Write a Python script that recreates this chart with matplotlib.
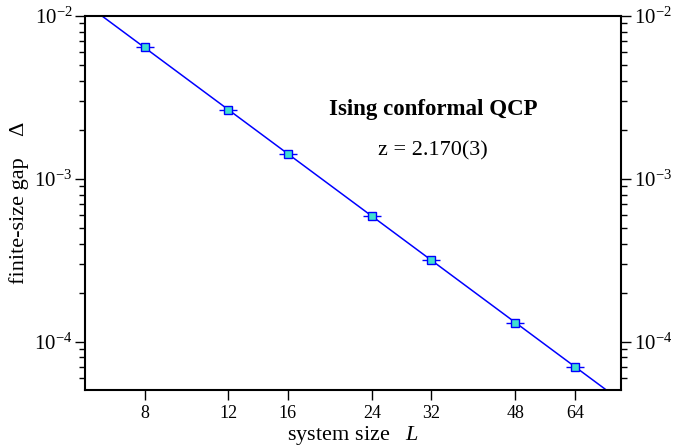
import numpy as np
import matplotlib
matplotlib.use("Agg")
import matplotlib.pyplot as plt
from matplotlib.ticker import LogLocator, NullFormatter, FixedLocator, FixedFormatter

plt.rcParams['font.family'] = ['Liberation Serif', 'DejaVu Serif']
plt.rcParams['mathtext.fontset'] = 'custom'
plt.rcParams['mathtext.rm'] = 'Liberation Serif'
plt.rcParams['mathtext.it'] = 'Liberation Serif:italic'
plt.rcParams['mathtext.bf'] = 'Liberation Serif:bold'

# data
sizes = [8, 12, 16, 24, 32, 48, 64]
gaps = [6.45e-3, 2.64e-3, 1.42e-3, 5.9e-4, 3.17e-4, 1.31e-4, 7.03e-5]
xtick_vals = [8, 12, 16, 24, 32, 48, 64]
xtick_labels = ['8', '12', '16', '24', '32', '48', '64']

# power-law fit Delta = A * L^-z
fit_z = 2.170
fit_amp = np.exp(np.mean(np.log(gaps) + fit_z * np.log(sizes)))

fig = plt.figure(figsize=(6.96, 4.48), dpi=100)
ax = fig.add_axes([85 / 696, 1 - 390 / 448, (621 - 85) / 696, (390 - 16) / 448])

L_fit = np.geomspace(5.5, 90, 200)
ax.plot(L_fit, fit_amp * L_fit ** (-fit_z), color='#0000ff', lw=1.1, zorder=2)
# small horizontal error-bar stubs behind the squares
ax.plot(sizes, gaps, ls='none', marker='_', ms=13, mew=1.0, color='#0000ff', zorder=3)
ax.plot(sizes, gaps, ls='none', marker='s', ms=5.5, mfc='#40e0d0', mec='#0000ff',
        mew=1.0, zorder=4)

ax.set_xscale('log')
ax.set_yscale('log')
ax.set_xlim(6, 80)
ax.set_ylim(5.05e-5, 1e-2)

ax.xaxis.set_major_locator(FixedLocator(xtick_vals))
ax.xaxis.set_major_formatter(FixedFormatter(xtick_labels))
ax.xaxis.set_minor_locator(FixedLocator([]))
ax.yaxis.set_minor_locator(LogLocator(base=10, subs=np.arange(2, 10)))
ax.yaxis.set_minor_formatter(NullFormatter())

ax.tick_params(axis='x', which='major', direction='out', length=7, width=1, labelsize=13,
               top=False, pad=4)
ax.tick_params(axis='y', which='major', direction='out', length=7, width=1, labelsize=15,
               left=True, right=True, labelleft=True, labelright=True, pad=2)
ax.tick_params(axis='y', which='minor', direction='out', length=4, width=1,
               left=True, right=True)
for sp in ax.spines.values():
    sp.set_linewidth(1.5)

ax.set_xlabel(r'system size   $\it{L}$', fontsize=16, labelpad=1)
ax.set_ylabel('finite-size gap    \u0394', fontsize=16, labelpad=4)

ax.text(433 / 696, 1 - 109 / 448, 'Ising conformal QCP', transform=fig.transFigure,
        ha='center', va='center', fontsize=16.5, fontweight='bold')
ax.text(433 / 696, 1 - 151 / 448, 'z = 2.170(3)', transform=fig.transFigure,
        ha='center', va='center', fontsize=16)

fig.savefig('out.png', dpi=100)
